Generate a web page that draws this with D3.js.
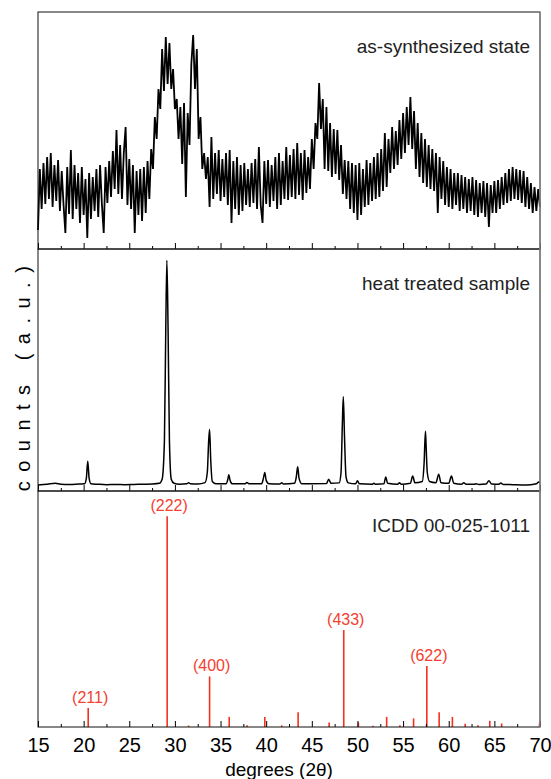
<!doctype html>
<meta charset="utf-8" />
<script src="https://cdn.jsdelivr.net/npm/d3@7"></script>
<style>
    body {
        margin: 0;
        background: white;
    }

    svg {
        display: block
    }

    text {
        font-family: Arial, "Liberation Sans", sans-serif;
    }
</style>
<svg id="chart"></svg>
<script>
    // 2theta grid of the as-synthesized scan
    var scanStart = 15, scanStep = 0.2;

    // as-synthesized state, counts (a.u.) every 0.2 deg from 15 to 70
    var asSynthesized = [
        19, 80, 40, 86, 45, 92, 50, 96, 42, 84,
        48, 89, 38, 78, 44, 16, 82, 35, 99, 30,
        84, 40, 76, 26, 82, 34, 70, 11, 76, 30,
        72, 38, 80, 32, 84, 45, 16, 82, 46, 88,
        52, 98, 60, 119, 55, 104, 50, 96, 122, 44,
        90, 40, 84, 16, 78, 34, 80, 28, 82, 36,
        88, 50, 100, 80, 132, 110, 160, 140, 200, 158,
        212, 165, 206, 160, 180, 140, 150, 110, 142, 85,
        146, 52, 136, 104, 185, 214, 160, 200, 110, 132,
        80, 96, 70, 92, 42, 112, 50, 96, 55, 99,
        48, 90, 52, 96, 44, 99, 26, 88, 40, 92,
        34, 84, 38, 86, 44, 80, 42, 86, 46, 90,
        40, 102, 44, 26, 88, 45, 89, 42, 84, 48,
        92, 40, 96, 44, 88, 50, 102, 49, 94, 52,
        100, 50, 106, 54, 96, 49, 99, 56, 92, 60,
        110, 80, 126, 110, 166, 120, 150, 80, 142, 78,
        126, 72, 120, 75, 119, 69, 104, 55, 89, 50,
        88, 40, 86, 36, 84, 29, 86, 34, 80, 42,
        89, 44, 86, 48, 92, 50, 96, 52, 100, 58,
        116, 62, 110, 76, 122, 80, 118, 84, 129, 90,
        136, 96, 142, 104, 152, 100, 138, 80, 126, 72,
        116, 66, 110, 62, 104, 60, 100, 58, 96, 36,
        92, 50, 88, 44, 82, 42, 80, 40, 76, 44,
        76, 38, 74, 40, 72, 36, 70, 38, 72, 34,
        69, 32, 66, 36, 68, 32, 66, 22, 64, 36,
        68, 36, 69, 40, 72, 44, 76, 46, 80, 48,
        82, 50, 80, 49, 79, 46, 78, 42, 72, 40,
        66, 36, 62, 38, 60, 42
    ];

    // heat treated sample, [2theta, counts]
    var heatTreated = [
        [15.0, 0.5], [16.0, 0.8], [16.9, 1.2], [17.5, 0.8], [18.5, 0.7], [19.5, 0.9],
        [20.1, 1.0], [20.3, 3.5], [20.45, 11], [20.6, 3.5], [20.8, 1.0], [21.5, 0.8],
        [22.5, 0.6], [23.5, 0.7], [24.5, 0.6], [25.5, 0.7], [26.5, 0.8], [27.5, 0.9],
        [28.3, 1.2], [28.6, 3], [28.85, 20], [29.0, 70], [29.12, 100], [29.25, 70],
        [29.4, 20], [29.6, 3], [29.9, 1.2], [30.5, 0.8], [31.3, 1.0], [31.5, 1.5],
        [31.7, 1.0], [32.5, 0.9], [33.3, 1.5], [33.55, 6], [33.7, 20], [33.8, 25],
        [33.92, 12], [34.1, 2], [34.5, 1], [35.6, 1], [35.8, 3], [35.9, 5],
        [36.05, 2.5], [36.3, 1], [37.7, 1], [37.9, 1.6], [38.1, 1], [39.5, 1],
        [39.7, 3.5], [39.85, 6], [40.0, 2.5], [40.3, 1], [41.5, 0.9], [41.7, 1.4],
        [41.9, 0.9], [43.1, 1.2], [43.3, 4], [43.45, 8.5], [43.6, 3.5], [43.9, 1],
        [46.6, 1.1], [46.85, 3], [47.1, 1.2], [48.0, 1.4], [48.2, 6], [48.35, 28],
        [48.45, 39.5], [48.58, 22], [48.75, 4], [49.0, 1.4], [49.8, 1], [50.0, 2.3],
        [50.2, 1], [51.6, 0.8], [51.8, 1.2], [52.0, 0.8], [52.9, 1], [53.1, 4],
        [53.3, 1.2], [54.4, 0.8], [54.6, 1.4], [54.8, 0.8], [55.8, 1.2], [56.05, 4.4],
        [56.3, 1.4], [57.1, 2], [57.3, 10], [57.45, 24.3], [57.52, 18], [57.65, 6],
        [57.9, 2], [58.6, 1.5], [58.9, 5.2], [59.15, 1.5], [60.0, 1.2], [60.3, 4.4],
        [60.55, 1.2], [61.4, 0.8], [61.65, 1.5], [61.9, 0.8], [62.8, 0.8], [63.0, 1.0],
        [63.3, 0.7], [64.1, 0.9], [64.4, 2.3], [64.7, 0.9], [65.5, 0.8], [65.7, 1.3],
        [66.0, 0.7], [67.0, 0.6], [68.0, 0.5], [69.0, 0.6], [69.6, 1.0], [69.85, 1.8],
        [70.0, 1.4]
    ];

    // ICDD 00-025-1011 reference lines, [2theta, relative intensity]
    var icddPeaks = [
        [20.5, 9], [29.15, 100], [31.5, 0.7], [33.8, 24], [35.95, 4.8], [37.9, 0.8],
        [39.85, 4.8], [41.7, 0.8], [43.5, 7], [46.9, 2.1], [48.5, 46], [50.1, 2.1],
        [51.7, 0.6], [53.2, 4.8], [54.65, 0.8], [56.15, 4.1], [57.6, 29], [58.95, 7],
        [60.4, 4.8], [61.8, 1.5], [63.2, 0.8], [64.5, 3], [65.8, 1.7], [69.95, 1.7]
    ];
    var hklLabels = [
        ['(211)', 20.5, 9], ['(222)', 29.15, 100], ['(400)', 33.8, 24],
        ['(433)', 48.5, 46], ['(622)', 57.6, 29]
    ];

    var majorTicks = d3.range(15, 70.1, 5);
    var minorTicks = d3.range(17.5, 70, 5);
    var panelNames = ['as-synthesized state', 'heat treated sample', 'ICDD 00-025-1011'];

    var width = 551, height = 779;
    var left = 38, right = 540;
    var panels = [[12, 249], [249, 491], [491, 727]];

    var svg = d3.select('svg#chart')
        .attr('width', width)
        .attr('height', height);

    var x = d3.scaleLinear().domain([15, 70]).range([left, right]);
    var y1 = d3.scaleLinear().domain([0, 237]).range([panels[0][1], panels[0][0]]);
    var y2 = d3.scaleLinear().domain([-2.2, 105]).range([panels[1][1], panels[1][0]]);
    var y3 = d3.scaleLinear().domain([0, 112]).range([panels[2][1], panels[2][0]]);

    var scanX = d3.range(asSynthesized.length).map(i => scanStart + i * scanStep);

    svg.append('path')
        .datum(asSynthesized)
        .attr('fill', 'none')
        .attr('stroke', '#000')
        .attr('stroke-width', 1.8)
        .attr('stroke-linejoin', 'miter')
        .attr('d', d3.line()
            .x((d, i) => x(scanX[i]))
            .y(d => y1(d)));

    svg.append('path')
        .datum(heatTreated)
        .attr('fill', 'none')
        .attr('stroke', '#000')
        .attr('stroke-width', 1.5)
        .attr('d', d3.line()
            .curve(d3.curveMonotoneX)
            .x(d => x(d[0]))
            .y(d => y2(d[1])));

    svg.selectAll('line.stick')
        .data(icddPeaks)
        .enter()
        .append('line')
        .attr('class', 'stick')
        .attr('x1', d => x(d[0]))
        .attr('x2', d => x(d[0]))
        .attr('y1', y3(0))
        .attr('y2', d => y3(d[1]))
        .attr('stroke', '#f4301f')
        .attr('stroke-width', 1.6);

    svg.selectAll('text.hkl')
        .data(hklLabels)
        .enter()
        .append('text')
        .attr('class', 'hkl')
        .attr('x', d => x(d[1]) + 2)
        .attr('y', d => y3(d[2]) - 5)
        .attr('text-anchor', 'middle')
        .style('font-size', '16px')
        .style('fill', '#f4402f')
        .text(d => d[0]);

    // ticks and frames
    panels.forEach(function (p, i) {
        var g = svg.append('g').attr('transform', 'translate(0,' + p[1] + ')');
        g.call(d3.axisBottom(x).tickValues(minorTicks).tickSize(-3).tickFormat(''));
        var major = g.append('g');
        major.call(d3.axisBottom(x).tickValues(majorTicks).tickSize(-6).tickPadding(11)
            .tickFormat(i == 2 ? d3.format('d') : ''));
        g.selectAll('.domain').remove();
        g.selectAll('line').attr('stroke', '#000');
        major.selectAll('text')
            .style('font-size', '20px')
            .style('font-family', 'Arial, "Liberation Sans", sans-serif')
            .attr('fill', '#000');

        svg.append('rect')
            .attr('x', left)
            .attr('y', p[0])
            .attr('width', right - left)
            .attr('height', p[1] - p[0])
            .attr('fill', 'none')
            .attr('stroke', '#111')
            .attr('stroke-width', 1);

        svg.append('text')
            .attr('x', 530)
            .attr('y', p[0] + 41)
            .attr('text-anchor', 'end')
            .style('font-size', '19px')
            .style('fill', '#222')
            .text(panelNames[i]);
    });

    svg.append('line')
        .attr('x1', right).attr('x2', right)
        .attr('y1', panels[0][0]).attr('y2', panels[2][1])
        .attr('stroke', '#888')
        .attr('stroke-width', 1.5);

    svg.append('text')
        .attr('x', 279)
        .attr('y', 776)
        .attr('text-anchor', 'middle')
        .style('font-size', '19px')
        .text('degrees (2θ)');

    svg.append('text')
        .attr('transform', 'translate(30,' + ((panels[1][0] + panels[1][1]) / 2 + 4) + ') rotate(-90)')
        .attr('text-anchor', 'middle')
        .style('font-size', '20px')
        .style('letter-spacing', '9.5px')
        .text('counts (a.u.)');
</script>
